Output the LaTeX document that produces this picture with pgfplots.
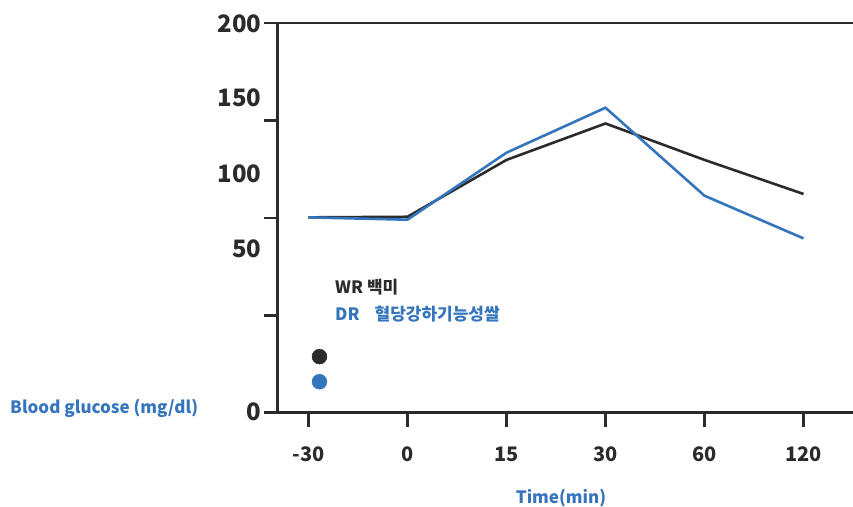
\documentclass[border=0pt]{standalone}
\usepackage{fontspec}
\setmainfont{Noto Sans CJK KR}
\usepackage{pgfplots}
\pgfplotsset{compat=1.18}
\definecolor{dk}{RGB}{43,43,43}
\definecolor{bl}{RGB}{52,117,189}
\tikzset{xl/.style={anchor=base, yshift=-48.3pt, inner sep=0pt, font=\fontsize{20}{20}\selectfont\bfseries, text=dk}}
\begin{document}
\begin{tikzpicture}[x=1pt,y=1pt]
\useasboundingbox (0,0) rectangle (853,506);
\begin{axis}[
  at={(277.5pt,93.3pt)}, anchor=south west,
  scale only axis, width=575.5pt, height=389.5pt,
  xmin=-0.313, xmax=5.5, ymin=0, ymax=200,
  axis lines=left,
  axis line style={-, line width=2.6pt, color=dk},
  xtick={0,1,2,3,4,5}, xticklabels={},
  ytick={0,50,100,150,200}, yticklabels={},
  tick align=outside, major tick length=14pt,
  tick style={line width=2.6pt, color=dk},
  clip=false,
]
\addplot[dk, line width=2.6pt] coordinates {(0,100.3) (1,100.6) (2,129.8) (3,148.5) (4,129.8) (5,112.3)};
\addplot[bl, line width=2.6pt] coordinates {(0,100.3) (1,99.1) (2,133.5) (3,156.6) (4,111.4) (5,89.5)};
\addplot[only marks, mark=*, mark size=7.5pt, dk, mark options={draw=none, fill=dk}] coordinates {(0.111,28.8)};
\addplot[only marks, mark=*, mark size=7.5pt, bl, mark options={draw=none, fill=bl}] coordinates {(0.111,15.9)};
\node[xl] at (axis cs:0,0) {-30};
\node[xl] at (axis cs:1,0) {0};
\node[xl] at (axis cs:2,0) {15};
\node[xl] at (axis cs:3,0) {30};
\node[xl] at (axis cs:4,0) {60};
\node[xl] at (axis cs:5,0) {120};
\end{axis}
\draw[dk, line width=2.6pt] (277.5,482.8) -- (853,482.8);
\begin{scope}[every node/.style={anchor=base east, inner sep=0pt, font=\fontsize{24}{24}\selectfont\bfseries, text=dk}]
\node at (261.5,473.7) {200};
\node at (261.5,399) {150};
\node at (261.5,323) {100};
\node at (261.5,248) {50};
\node at (261.5,86) {0};
\end{scope}
\node[anchor=base west, inner sep=0pt, font=\fontsize{17}{17}\selectfont\bfseries, text=bl] at (10,93) {Blood glucose (mg/dl)};
\node[anchor=base, inner sep=0pt, font=\fontsize{17}{17}\selectfont\bfseries, text=bl] at (561,3) {Time(min)};
\node[anchor=base west, inner sep=0pt, font=\fontsize{17}{17}\selectfont\bfseries, text=dk] at (335,212.7) {WR 백미};
\node[anchor=base west, inner sep=0pt, font=\fontsize{17}{17}\selectfont\bfseries, text=bl] at (335,185) {DR\hspace{15pt}혈당강하기능성쌀};
\end{tikzpicture}
\end{document}
